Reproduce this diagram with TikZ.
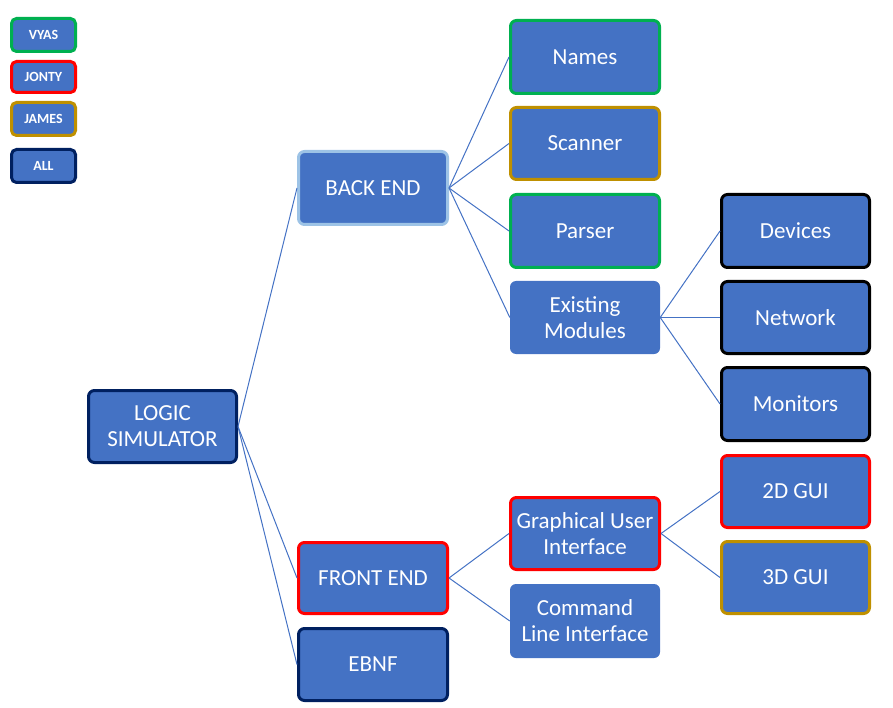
\documentclass[tikz,border=0pt]{standalone}
\usepackage{fontspec}
\setmainfont{Carlito}
\definecolor{boxfill}{HTML}{4472C4}
\definecolor{linkcol}{HTML}{4472C4}
\definecolor{vyas}{HTML}{00B050}
\definecolor{jonty}{HTML}{FF0000}
\definecolor{james}{HTML}{BF9000}
\definecolor{allcol}{HTML}{002060}
\definecolor{lightb}{HTML}{9DC3E6}
\begin{document}
\begin{tikzpicture}[x=1pt,y=-1pt,
  box/.style={rectangle,rounded corners=6pt,fill=boxfill,text=white,align=center,inner sep=0pt,
    font=\fontsize{23}{26}\selectfont,minimum width=#1},
  box/.default=149pt,
  bord/.style={draw=#1,line width=3pt},
  leg/.style={rectangle,rounded corners=5pt,fill=boxfill,text=white,align=center,inner sep=0pt,
    font=\bfseries\fontsize{14}{16}\selectfont,minimum width=64pt,minimum height=33pt,draw=#1,line width=3pt},
  link/.style={draw=linkcol,line width=1pt}]
\useasboundingbox (0,0) rectangle (893,708);
% legend
\node[leg=vyas] (lv) at (43.5,35) {VYAS};
\node[leg=jonty,minimum height=31pt] (lj) at (43.5,77) {JONTY};
\node[leg=james] (lja) at (43.5,119) {JAMES};
\node[leg=allcol] (la) at (43.5,166) {ALL};
% main nodes
\node[box,bord=allcol,minimum height=72pt,minimum width=148pt] (logic) at (162.5,426.5) {LOGIC\\SIMULATOR};
\node[box,bord=lightb,minimum height=73pt] (back) at (373,188) {BACK END};
\node[box,bord=jonty,minimum height=71pt] (front) at (373,578) {FRONT END};
\node[box,bord=allcol,minimum height=72pt] (ebnf) at (373,664.5) {EBNF};
\node[box,bord=vyas,minimum height=73pt] (names) at (585,57) {Names};
\node[box,bord=james,minimum height=72pt] (scanner) at (585,143.5) {Scanner};
\node[box,bord=vyas,minimum height=73pt] (parser) at (585,231) {Parser};
\node[box=150pt,minimum height=73pt] (exist) at (585,317.5) {Existing\\Modules};
\node[box,bord=black,minimum height=73pt,minimum width=148pt] (devices) at (795.5,231) {Devices};
\node[box,bord=black,minimum height=72pt,minimum width=148pt] (network) at (795.5,317.5) {Network};
\node[box,bord=black,minimum height=73pt,minimum width=148pt] (monitors) at (795.5,404) {Monitors};
\node[box,bord=jonty,minimum height=72pt,minimum width=148pt] (gui2) at (795.5,491.5) {2D GUI};
\node[box,bord=james,minimum height=72pt,minimum width=148pt] (gui3) at (795.5,577.5) {3D GUI};
\node[box,bord=jonty,minimum height=72pt] (gui) at (585,533.5) {Graphical User\\Interface};
\node[box=150pt,minimum height=74pt] (cli) at (585,621) {Command\\Line Interface};
% links
\draw[link] (logic.east) -- (back.west);
\draw[link] (logic.east) -- (front.west);
\draw[link] (logic.east) -- (ebnf.west);
\foreach \t in {names,scanner,parser,exist}
  \draw[link] (back.east) -- (\t.west);
\foreach \t in {devices,network,monitors}
  \draw[link] (exist.east) -- (\t.west);
\draw[link] (front.east) -- (gui.west);
\draw[link] (front.east) -- (cli.west);
\draw[link] (gui.east) -- (gui2.west);
\draw[link] (gui.east) -- (gui3.west);
\end{tikzpicture}
\end{document}
